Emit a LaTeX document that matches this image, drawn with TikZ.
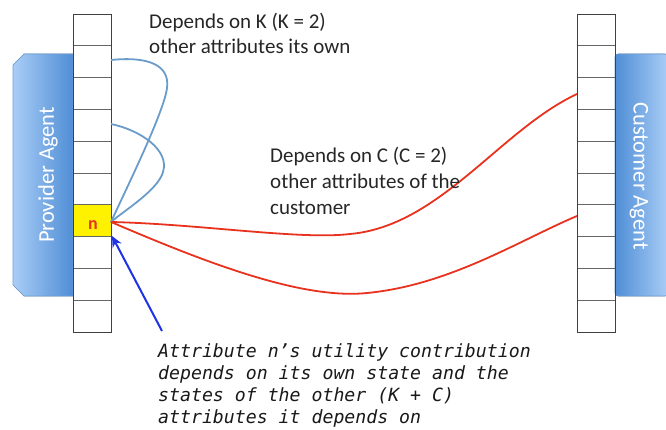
\documentclass[tikz,border=0pt]{standalone}
\usepackage{fontspec}
\setmainfont{Carlito}
\newfontfamily\monofont{DejaVu Sans Mono}
\usetikzlibrary{arrows.meta}
\definecolor{lightb}{HTML}{AACDF6}
\definecolor{darkb}{HTML}{4F8ED6}
\definecolor{edgeb}{HTML}{6C9ED6}
\definecolor{curveb}{HTML}{6A9CCB}
\definecolor{redc}{HTML}{E8321E}
\definecolor{arrowb}{HTML}{1F33E6}
\tikzset{
  cellbox/.style={draw=black!75, line width=0.8pt},
  divider/.style={draw=black!60, line width=0.6pt},
  bluecurve/.style={draw=curveb, line width=1.8pt},
  redcurve/.style={draw=redc, line width=1.8pt},
  lbl/.style={anchor=base west, align=left, inner sep=0pt, font=\fontsize{21}{25}\selectfont, text=black!85},
  agent/.style={text=white, font=\fontsize{22.5}{26}\selectfont, inner sep=0pt}
}
\begin{document}
\begin{tikzpicture}[x=1pt,y=-1pt]
\useasboundingbox (0,0) rectangle (666,430);
% agent boxes
\fill[left color=lightb, right color=darkb, draw=edgeb, line width=0.6pt]
  (73,54) -- (24,54) -- (13,65) -- (13,285) -- (24,296) -- (73,296) -- cycle;
\fill[left color=darkb, right color=lightb, draw=edgeb, line width=0.6pt, rounded corners=3pt]
  (615,54) -- (668,54) -- (668,296) -- (615,296) -- cycle;
\node[agent, rotate=90] (prov) at (48,175) {Provider Agent};
\node[agent, rotate=-90] (cust) at (639,176) {Customer Agent};
% columns
\fill[yellow] (73,204.2) rectangle (111,236);
\foreach \i in {1,...,9} {
  \draw[divider] (73,{14+31.8*\i}) -- (111,{14+31.8*\i});
  \draw[divider] (577,{14+31.8*\i}) -- (615,{14+31.8*\i});
}
\draw[cellbox] (73,14) rectangle (111,332);
\draw[cellbox] (577,14) rectangle (615,332);
\node[text=redc, font=\bfseries\fontsize{18}{20}\selectfont, anchor=base] (n) at (93,230) {n};
% coordinates
\coordinate (src) at (111,222);
\coordinate (k1) at (111,60);
\coordinate (k2) at (111,124);
\coordinate (c1) at (577,94);
\coordinate (c2) at (577,216);
% blue curves
\draw[bluecurve] (k1) .. controls (150,56) and (170,66) .. (167,88) .. controls (164,112) and (128,185) .. (src);
\draw[bluecurve] (k2) .. controls (140,130) and (170,150) .. (163,172) .. controls (158,190) and (125,210) .. (src);
% red curves
\draw[redcurve] (src) .. controls (200,224) and (300,240) .. (350,234) .. controls (440,226) and (500,130) .. (c1);
\draw[redcurve] (src) .. controls (200,260) and (300,300) .. (367,293) .. controls (450,285) and (520,240) .. (c2);
% arrow
\coordinate (atail) at (162,331);
\coordinate (ahead) at (112,236);
\draw[arrowb, line width=2pt, -{Stealth[length=11pt,width=10pt]}] (atail) -- (ahead);
% labels (anchored at baseline of last line)
\node[lbl] (tk) at (149,54) {Depends on K (K = 2)\\other attributes its own};
\node[lbl, font=\fontsize{21}{26}\selectfont] (tc) at (270,215) {Depends on C (C = 2)\\other attributes of the\\customer};
\node[anchor=base west, align=left, inner sep=0pt, font=\monofont\itshape\fontsize{18.2}{21.8}\selectfont, text=black!90] (tb) at (158,423)
  {Attribute n’s utility contribution\\depends on its own state and the\\states of the other (K + C)\\attributes it depends on};
\end{tikzpicture}
\end{document}
